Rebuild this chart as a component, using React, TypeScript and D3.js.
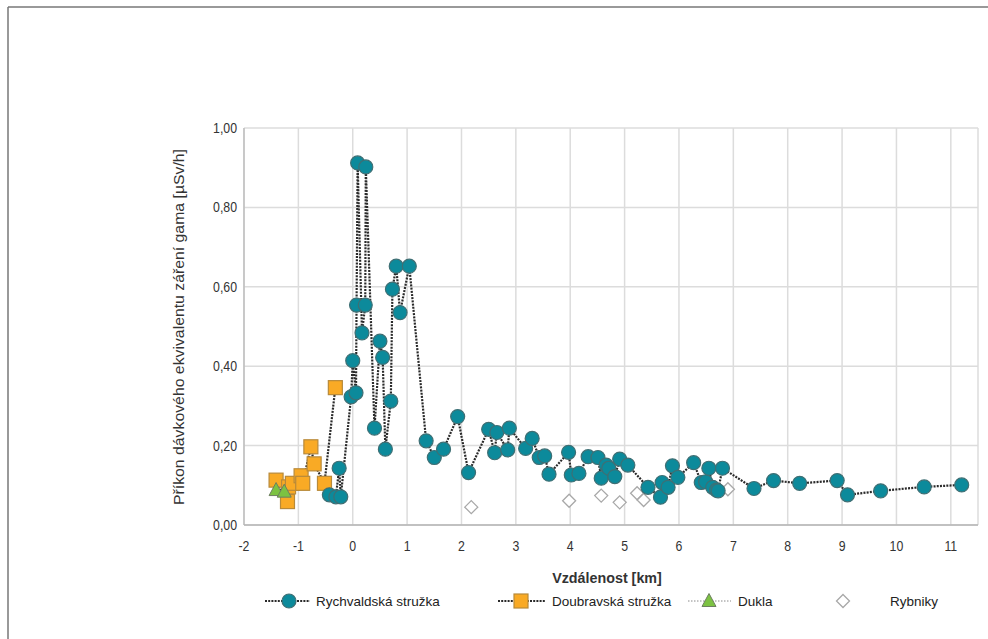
import React from "react";
import * as d3 from "d3";

const rychX = [-0.43,-0.31,-0.25,-0.22,-0.03,0.0,0.06,0.07,0.09,0.17,0.23,0.24,0.40,0.50,0.55,0.60,0.70,0.73,0.80,0.87,1.04,1.35,1.50,1.67,1.93,2.13,2.50,2.61,2.65,2.85,2.88,3.18,3.30,3.43,3.53,3.61,3.97,4.02,4.16,4.33,4.51,4.57,4.66,4.71,4.82,4.91,5.06,5.43,5.66,5.69,5.80,5.88,5.98,6.27,6.41,6.49,6.55,6.62,6.69,6.72,6.80,7.38,7.74,8.22,8.91,9.10,9.71,10.51,11.20];
const rychY = [0.076,0.071,0.143,0.071,0.323,0.414,0.333,0.554,0.912,0.484,0.554,0.902,0.244,0.463,0.422,0.191,0.312,0.594,0.652,0.535,0.652,0.212,0.170,0.191,0.273,0.132,0.241,0.182,0.233,0.189,0.244,0.193,0.218,0.170,0.174,0.128,0.183,0.126,0.130,0.172,0.170,0.118,0.151,0.143,0.122,0.166,0.151,0.095,0.070,0.107,0.095,0.149,0.120,0.157,0.107,0.109,0.143,0.095,0.088,0.086,0.143,0.092,0.112,0.105,0.112,0.076,0.086,0.096,0.101];

const doubX = [-1.41,-1.20,-1.18,-1.11,-0.95,-0.92,-0.77,-0.71,-0.52,-0.32];
const doubY = [0.113,0.059,0.096,0.105,0.124,0.105,0.197,0.154,0.105,0.346];

const duklaX = [-1.41,-1.26];
const duklaY = [0.088,0.084];

const rybX = [2.18,3.98,4.57,4.91,5.23,5.35,6.90];
const rybY = [0.045,0.061,0.074,0.057,0.080,0.063,0.090];

const xTicks = [-2,-1,0,1,2,3,4,5,6,7,8,9,10,11];
const yTicks = [0,0.2,0.4,0.6,0.8,1.0];

const legendNames = ["Rychvaldská stružka","Doubravská stružka","Dukla","Rybniky"];

const W = 988, H = 639;
const L = 244, R = 978, T = 128, B = 525;

export default function App() {
  const x = d3.scaleLinear().domain([-2, 11.5]).range([L, R]);
  const y = d3.scaleLinear().domain([0, 1]).range([B, T]);
  const fmt = (v: number) => v.toFixed(2).replace(".", ",");
  const line = d3.line<[number, number]>().x(d => x(d[0])).y(d => y(d[1]));
  const rych = rychX.map((v, i) => [v, rychY[i]] as [number, number]);
  const doub = doubX.map((v, i) => [v, doubY[i]] as [number, number]);
  const dukla = duklaX.map((v, i) => [v, duklaY[i]] as [number, number]);
  const ryb = rybX.map((v, i) => [v, rybY[i]] as [number, number]);

  const teal = "#0c8a9b", tealStroke = "#3f6f74";
  const orange = "#f9aa25", orangeStroke = "#b88a3a";
  const green = "#7cc242", greenStroke = "#6d7f60";
  const font = "Liberation Sans, Arial, sans-serif";

  const circle = (cx: number, cy: number, k: string) => (
    <circle key={k} cx={cx} cy={cy} r={7} fill={teal} stroke={tealStroke} strokeWidth={1.2} />
  );
  const square = (cx: number, cy: number, k: string) => (
    <rect key={k} x={cx - 7} y={cy - 7} width={14} height={14} fill={orange} stroke={orangeStroke} strokeWidth={1.2} />
  );
  const tri = (cx: number, cy: number, k: string) => (
    <path key={k} d={`M${cx},${cy - 7.5}L${cx + 7},${cy + 5.5}L${cx - 7},${cy + 5.5}Z`} fill={green} stroke={greenStroke} strokeWidth={1} />
  );
  const diamond = (cx: number, cy: number, k: string) => (
    <path key={k} d={`M${cx},${cy - 6.5}L${cx + 6.5},${cy}L${cx},${cy + 6.5}L${cx - 6.5},${cy}Z`} fill="#fff" stroke="#a8a8a8" strokeWidth={1.3} />
  );

  const legY = 601;

  return (
    <svg width={W} height={H} style={{ position: "absolute", left: 0, top: 0, background: "#fff" }} fontFamily={font}>
      <rect x={0} y={0} width={W} height={H} fill="#fff" />
      <line x1={8} y1={7} x2={W} y2={7} stroke="#777" strokeWidth={1.5} />
      <line x1={8} y1={7} x2={8} y2={H} stroke="#777" strokeWidth={1.5} />

      {/* grid */}
      {xTicks.map(t => (
        <line key={"gx" + t} x1={x(t)} x2={x(t)} y1={T} y2={B} stroke="#dcdcdc" strokeWidth={1.5} />
      ))}
      <line x1={R} x2={R} y1={T} y2={B} stroke="#dcdcdc" strokeWidth={1.5} />
      {yTicks.map(t => (
        <line key={"gy" + t} x1={L} x2={R} y1={y(t)} y2={y(t)} stroke="#dcdcdc" strokeWidth={1.5} />
      ))}
      <line x1={L} x2={R} y1={B} y2={B} stroke="#b5b5b5" strokeWidth={1.5} />
      <line x1={L} x2={L} y1={T} y2={B} stroke="#b5b5b5" strokeWidth={1.2} />

      {/* tick labels */}
      {xTicks.map(t => (
        <text key={"tx" + t} x={x(t)} y={551} textAnchor="middle" fontSize={14} fill="#333" transform={`translate(${x(t)},0) scale(0.88,1) translate(${-x(t)},0)`}>{t}</text>
      ))}
      {yTicks.map(t => (
        <text key={"ty" + t} x={237} y={y(t) + 5} textAnchor="end" fontSize={14} fill="#333" transform={`translate(237,0) scale(0.88,1) translate(-237,0)`}>{fmt(t)}</text>
      ))}

      <text x={607} y={583} textAnchor="middle" fontSize={14.3} fontWeight="bold" fill="#333">Vzdálenost [km]</text>
      <text transform={`translate(184,327) rotate(-90)`} textAnchor="middle" fontSize={14.5} fill="#333" textLength={356} lengthAdjust="spacingAndGlyphs">Příkon dávkového ekvivalentu záření gama [µSv/h]</text>

      {/* lines */}
      <path d={line(dukla) || ""} fill="none" stroke="#888" strokeWidth={1} strokeDasharray="1.5,1.5" />
      <path d={line(doub) || ""} fill="none" stroke="#2a2a2a" strokeWidth={2.2} strokeDasharray="2,1.2" />
      <path d={line(rych) || ""} fill="none" stroke="#2a2a2a" strokeWidth={2.2} strokeDasharray="2,1.2" />

      {/* markers */}
      {ryb.map((d, i) => diamond(x(d[0]), y(d[1]), "rb" + i))}
      {doub.map((d, i) => square(x(d[0]), y(d[1]), "db" + i))}
      {dukla.map((d, i) => tri(x(d[0]), y(d[1]), "dk" + i))}
      {rych.map((d, i) => circle(x(d[0]), y(d[1]), "ry" + i))}

      {/* legend */}
      <line x1={265} x2={310} y1={legY} y2={legY} stroke="#2a2a2a" strokeWidth={2.2} strokeDasharray="2,1.2" />
      {circle(289, legY, "lg1")}
      <text x={316} y={legY + 5} fontSize={13.5} fill="#222">{legendNames[0]}</text>

      <line x1={498} x2={545} y1={legY} y2={legY} stroke="#2a2a2a" strokeWidth={2.2} strokeDasharray="2,1.2" />
      {square(521, legY, "lg2")}
      <text x={552} y={legY + 5} fontSize={13.5} fill="#222">{legendNames[1]}</text>

      <line x1={688} x2={731} y1={legY} y2={legY} stroke="#888" strokeWidth={1} strokeDasharray="1.5,1.5" />
      {tri(709, legY, "lg3")}
      <text x={738} y={legY + 5} fontSize={13.5} fill="#222">{legendNames[2]}</text>

      {diamond(843, legY, "lg4")}
      <text x={890} y={legY + 5} fontSize={13.5} fill="#222">{legendNames[3]}</text>
    </svg>
  );
}
